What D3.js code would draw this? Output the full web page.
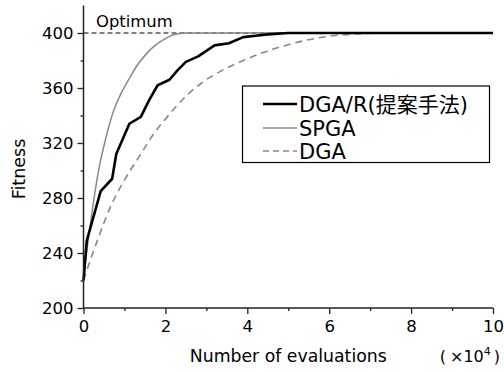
<!DOCTYPE html>
<html>
<head>
<meta charset="utf-8">
<script src="https://cdn.jsdelivr.net/npm/d3@7"></script>
<style>
  html, body { margin: 0; padding: 0; background: #fff; }
  svg { display: block; font-family: "DejaVu Sans", "Noto Sans CJK JP", sans-serif; }
</style>
</head>
<body>
<div id="chart"></div>
<script>
// evaluations in units of 10^4
const xMajorTicks = [0, 2, 4, 6, 8, 10];
const xMinorTicks = [1, 3, 5, 7, 9];
const yMajorTicks = [200, 240, 280, 320, 360, 400];
const yMinorTicks = [220, 260, 300, 340, 380];

const optimum = 400;

const dgarEvals = [0, 0.08, 0.42, 0.70, 0.80, 1.12, 1.40, 1.60, 1.81, 2.10, 2.30, 2.50, 2.80, 3.20, 3.55, 3.90, 4.20, 4.50, 5.00, 6.00, 10];
const dgarFit   = [220, 249, 285, 294, 312, 334, 339, 351, 362, 366, 373, 379, 383, 391, 392.5, 397, 398, 399, 400, 400, 400];

const spgaEvals = [0, 0.05, 0.1, 0.2, 0.3, 0.4, 0.5, 0.6, 0.73, 0.9, 1.14, 1.3, 1.54, 1.75, 1.95, 2.1, 2.28, 2.5, 3.0, 10];
const spgaFit   = [220, 234, 246, 268, 288, 305, 318, 330, 343, 355, 368, 376, 385, 391, 395, 397.5, 399.2, 400, 400, 400];

const dgaEvals = [0, 0.1, 0.35, 0.65, 1.0, 1.4, 1.7, 2.1, 2.5, 2.9, 3.4, 3.9, 4.5, 5.0, 5.4, 6.1, 6.8, 7.5, 10];
const dgaFit   = [220, 229, 250, 273, 293, 312, 326, 341, 354, 364, 373, 380, 387, 391.5, 394.5, 398, 399.5, 400, 400];

const seriesNames = ['DGA/R(提案手法)', 'SPGA', 'DGA'];

const W = 504, H = 372;
const svg = d3.select('#chart').append('svg')
  .attr('width', W)
  .attr('height', H);

const x = d3.scaleLinear().domain([0, 10]).range([83.5, 493]);
const y = d3.scaleLinear().domain([200, 400]).range([308, 33]);
const yTop = 420;

const axisColor = '#222';

// optimum line
svg.append('line')
  .attr('x1', x(0)).attr('x2', x(10))
  .attr('y1', y(optimum)).attr('y2', y(optimum))
  .attr('stroke', '#000')
  .attr('stroke-width', 1.2)
  .attr('stroke-dasharray', '5,3');

svg.append('text')
  .attr('x', 96)
  .attr('y', 26.5)
  .attr('font-size', 16.4)
  .text('Optimum');

const zip = (xs, ys) => xs.map((v, i) => [v, ys[i]]);

const lineLin = d3.line().x(d => x(d[0])).y(d => y(d[1]));
const lineSmooth = d3.line().x(d => x(d[0])).y(d => y(d[1])).curve(d3.curveMonotoneX);

svg.append('path')
  .datum(zip(dgaEvals, dgaFit))
  .attr('d', lineSmooth)
  .attr('fill', 'none')
  .attr('stroke', '#888')
  .attr('stroke-width', 1.6)
  .attr('stroke-dasharray', '7,5');

svg.append('path')
  .datum(zip(spgaEvals, spgaFit))
  .attr('d', lineSmooth)
  .attr('fill', 'none')
  .attr('stroke', '#888')
  .attr('stroke-width', 1.5);

svg.append('path')
  .datum(zip(dgarEvals, dgarFit))
  .attr('d', lineLin)
  .attr('fill', 'none')
  .attr('stroke', '#000')
  .attr('stroke-width', 2.6)
  .attr('stroke-linejoin', 'round');

// axes
const styleAxis = g => {
  g.select('.domain').remove();
  g.selectAll('.tick line').attr('stroke', axisColor).attr('stroke-width', 1.3);
  g.selectAll('.tick text').attr('fill', '#000').attr('font-size', 16.5)
    .attr('font-family', '"DejaVu Sans", sans-serif');
};

svg.append('g')
  .attr('transform', `translate(0,${y(200)})`)
  .call(d3.axisBottom(x).tickValues(xMajorTicks).tickSize(6).tickPadding(6).tickFormat(d3.format('d')))
  .call(styleAxis);

svg.append('g')
  .attr('transform', `translate(0,${y(200)})`)
  .call(d3.axisBottom(x).tickValues(xMinorTicks).tickSize(3).tickFormat(''))
  .call(styleAxis);

svg.append('g')
  .attr('transform', `translate(${x(0)},0)`)
  .call(d3.axisLeft(y).tickValues(yMajorTicks).tickSize(6).tickPadding(4).tickFormat(d3.format('d')))
  .call(styleAxis);

svg.append('g')
  .attr('transform', `translate(${x(0)},0)`)
  .call(d3.axisLeft(y).tickValues(yMinorTicks).tickSize(3).tickFormat(''))
  .call(styleAxis);

// axis lines
svg.append('line')
  .attr('x1', x(0)).attr('x2', x(10))
  .attr('y1', y(200)).attr('y2', y(200))
  .attr('stroke', axisColor).attr('stroke-width', 1.5);
svg.append('line')
  .attr('x1', x(0)).attr('x2', x(0))
  .attr('y1', y(200)).attr('y2', y(yTop))
  .attr('stroke', axisColor).attr('stroke-width', 1.5);

// axis titles
svg.append('text')
  .attr('x', (x(0) + x(10)) / 2)
  .attr('y', 362)
  .attr('text-anchor', 'middle')
  .attr('font-size', 17.3)
  .text('Number of evaluations');

const unit = svg.append('text')
  .attr('x', 500)
  .attr('y', 362)
  .attr('text-anchor', 'end')
  .attr('font-size', 16);
unit.append('tspan').text('(');
unit.append('tspan').attr('dx', 4).text('×10');
unit.append('tspan').attr('font-size', 11).attr('dy', -7).text('4');
unit.append('tspan').attr('dy', 7).attr('dx', 3).text(')');

svg.append('text')
  .attr('transform', 'translate(25,169) rotate(-90)')
  .attr('text-anchor', 'middle')
  .attr('font-size', 17.5)
  .text('Fitness');

// legend
const legend = svg.append('g');
legend.append('rect')
  .attr('x', 242.5).attr('y', 86)
  .attr('width', 247).attr('height', 76.5)
  .attr('fill', '#fff')
  .attr('stroke', '#000')
  .attr('stroke-width', 1.2);

const legendStyles = [
  { stroke: '#000', width: 2.6, dash: null },
  { stroke: '#888', width: 1.5, dash: null },
  { stroke: '#888', width: 1.6, dash: '6,4' }
];
const rowY = [104, 128, 151];

seriesNames.forEach((name, i) => {
  const s = legendStyles[i];
  legend.append('line')
    .attr('x1', 263).attr('x2', 297)
    .attr('y1', rowY[i]).attr('y2', rowY[i])
    .attr('stroke', s.stroke)
    .attr('stroke-width', s.width)
    .attr('stroke-dasharray', s.dash);
  legend.append('text')
    .attr('x', 299)
    .attr('y', rowY[i])
    .attr('dy', '0.36em')
    .attr('font-size', 21)
    .text(name);
});
</script>
</body>
</html>
